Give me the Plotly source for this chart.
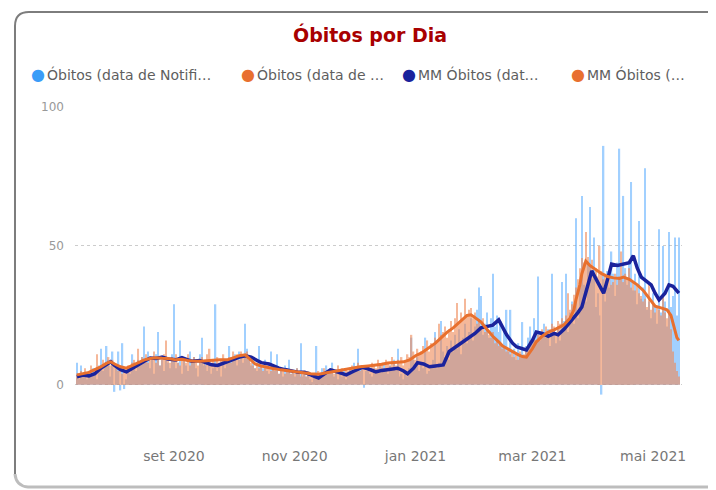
import pandas as pd
import plotly.graph_objects as go

# ---------------- data ----------------
start_date = "2020-07-14"
end_date = "2021-05-14"

# Óbitos (data de Notificação) - daily, by month
notif_jul = [8, 2, 7, 3, 4, 2, 5, 3, 6, 4, 2, 7, 13, 5, 8, 14, 9, 3]
notif_aug = [12, -2.5, 6, 12, -2, 15, -1.5, 2, 6, 4, 11, 8, 5, 9, 7, 10, 21, 8, 12, 6,
             9, 4, 11, 19, 7, 10, 5, 9, 8, 6, 11]
notif_sep = [29, 6, 8, 16, 4, 9, 7, 5, 12, 8, 10, 6, 3, 11, 17, 7, 9, 5, 8, 4,
             6, 29, 5, 7, 3, 9, 6, 8, 14, 10]
notif_oct = [9, 11, 7, 12, 10, 8, 22, 13, 9, 7, 10, 6, 5, 14, 7, 6, 9, 5, 4, 12,
             6, 5, 11, 4, 6, 3, 7, 5, 9, 4, 5]
notif_nov = [3, 6, 4, 15, 3, 4, 3, 5, 2, 1, 3, 14, 2, 4, 6, 5, 7, 4, 6, 8,
             3, 5, 2, 4, 3, 5, 2, 4, 6, 4]
notif_dec = [8, 5, 13, 7, 6, -1, 5, 7, 4, 3, 6, 4, 5, 7, 6, 8, 5, 4, 7, 6,
             9, 5, 13, 3, 4, 2, 5, 3, 6, 17, 9]
notif_jan = [7, 10, 5, 8, 6, 17, 4, 5, 7, 9, 19, 6, 8, 23, 12, 10, 14, 9, 16, 12,
             18, 13, 20, 11, 17, 22, 15, 19, 24, 16, 21]
notif_feb = [27, 35, 32, 18, 22, 26, 17, 24, 40, 21, 25, 19, 23, 14, 20, 27, 12, 27, 10, 13,
             9, 15, 11, 22.6, 10, 14, 17, 21]
notif_mar = [15, 24, 19, 39, 16, 18, 22, 17, 20, 14, 40, 18, 15, 21, 16, 37, 23, 40, 19, 26,
             30, 22, 60, 24, 35, 68, 36, 30, 44, 64, 38]
notif_apr = [53, 28, 33, 25, -3.5, 86, 30, 41, 35, 48, 40, 32, 44, 85, 38, 68, 42, 36, 45, 73,
             34, 40, 29, 59, 31, 35, 78, 27, 30, 24]
notif_may = [33, 28, 22, 56, 26, 50, 30, 21, 55, 28, 32, 53, 25, 53]

# Óbitos (data de Óbito) - daily, by month
obito_jul = [4, 3, 5, 4, 6, 3, 5, 7, 4, 6, 11, 5, 7, 9, 6, 8, 10, 7]
obito_aug = [9, 8, 6, 5, 7, 4, 6, 5, 7, 6, 8, 9, 7, 13, 8, 10, 9, 11, 8, 10,
             9, 12, 8, 10, 7, 9, 11, 16, 9, 8, 10]
obito_sep = [9, 11, 8, 7, 10, 9, 8, 11, 7, 9, 10, 8, 7, 9, 10, 8, 7, 11, 13, 8,
             9, 7, 10, 8, 9, 11, 8, 9, 10, 8]
obito_oct = [12, 10, 11, 9, 12, 11, 10, 12, 9, 8, 7, 6, 8, 6, 7, 5, 6, 7, 6, 5,
             7, 6, 5, 4, 6, 5, 4, 6, 5, 4, 5]
obito_nov = [4, 6, 5, 3, 4, 5, 3, 5, 3, 4, 3, 4, 5, 3, 4, 6, 5, 4, 5, 6,
             4, 5, 7, 5, 6, 4, 6, 5, 6, 7]
obito_dec = [5, 6, 8, 5, 7, 6, 6, 7, 5, 8, 7, 6, 9, 7, 8, 6, 9, 8, 7, 10,
             8, 7, 9, 8, 10, 7, 9, 11, 10, 18, 12]
obito_jan = [9, 13, 11, 12, 14, 13, 16, 12, 15, 14, 17, 16, 22, 18, 19, 21, 17, 20, 23, 19,
             24, 29.5, 22, 26, 24, 31, 25, 27, 27.7, 24, 26]
obito_feb = [22, 23, 21, 24, 19, 20, 18, 17, 19, 15, 16, 14, 15, 13, 14, 12, 13, 11, 12, 10,
             11, 9, 12, 10, 11, 13, 14, 16]
obito_mar = [15, 17, 16, 18, 19, 20, 18, 21, 19, 20, 22, 21, 19, 23, 22, 24, 21, 25, 33, 27,
             29, 32.4, 35, 38, 42, 45.7, 44, 55, 46, 43, 45]
obito_apr = [40, 42, 39, 50, 41, 38, 40, 37, 39, 36, 37, 40, 36, 39, 48, 37, 40, 38, 42, 35,
             37, 34, 36, 33, 32, 30, 31, 28, 36, 27]
obito_may = [29, 26, 28, 27, 25, 32, 26, 24, 27, 20, 12, 8, 5, 3]

# MM Óbitos (data de Notificação): day offset from start_date, value
mm_notif_day = [0, 3, 6, 9, 12, 15, 17, 19, 22, 25, 28, 31, 34, 37, 40, 43, 46, 50, 53, 56,
                58, 62, 65, 68, 71, 74, 78, 82, 85, 88, 91, 93, 97, 99, 102, 105, 108, 112, 115, 118,
                122, 125, 128, 131, 134, 136, 140, 144, 147, 151, 154, 158, 162, 165, 167, 170, 172, 175, 178, 181,
                185, 188, 191, 195, 198, 201, 204, 207, 210, 213, 214, 217, 220, 222, 225, 227, 230, 232, 235, 238,
                241, 243, 246, 249, 251, 253, 255, 257, 260, 263, 266, 268, 270, 273, 276, 279, 281, 283, 285, 288,
                290, 292, 294, 297, 299, 301, 304]
mm_notif_val = [2.9, 3.5, 3.2, 4, 6, 7.5, 8.3, 7, 5.5, 4.7, 6, 7.5, 8.5, 9.7, 9.5, 10, 9.3, 9, 9.8, 9,
                8.5, 8.8, 8, 7.2, 7, 7.8, 9, 10, 10.5, 10, 8.8, 8, 7.5, 6.8, 6, 5.5, 5, 4.5, 4.5, 3.5,
                2.5, 4, 5.4, 4.8, 4.2, 3.6, 5, 6.3, 5.8, 4.7, 5.2, 5.5, 6, 5, 4, 6, 8, 7.5, 6.5, 6.8,
                7.2, 12, 13.5, 15.5, 17, 18.5, 20.5, 21, 21.5, 23.4, 22, 18, 15, 13.7, 13, 12.6, 16, 19, 18.5, 17.5,
                18.5, 18, 20, 22.5, 24, 26, 28, 33, 41, 37, 33, 38, 43.5, 43, 43.5, 44, 46.5, 42, 38.8, 37,
                36, 33, 30.6, 33, 36, 35.5, 33]

# MM Óbitos (data de Óbito): day offset from start_date, value
mm_obito_day = [0, 3, 6, 9, 12, 15, 17, 19, 22, 25, 28, 31, 34, 37, 40, 43, 46, 50, 53, 56,
                58, 62, 65, 68, 72, 76, 79, 82, 85, 88, 90, 93, 97, 99, 103, 107, 110, 114, 118, 122,
                125, 128, 132, 136, 139, 143, 147, 151, 154, 157, 161, 165, 168, 171, 174, 176, 178, 181, 184, 187,
                190, 193, 195, 197, 199, 201, 204, 207, 210, 213, 215, 218, 220, 223, 225, 227, 230, 232, 235, 238,
                241, 244, 246, 249, 251, 252, 254, 255, 257, 259, 262, 265, 268, 271, 274, 276, 279, 283, 286, 288,
                291, 292, 295, 298, 300, 302, 303, 304]
mm_obito_val = [3.6, 4, 4.5, 5.5, 6.5, 7.8, 8.3, 7.5, 6.5, 6, 7, 8, 9, 9.5, 9.8, 9.6, 9.5, 9, 9.2, 8.8,
                8.6, 8.5, 8.7, 9, 9, 9, 9.8, 10.5, 10.8, 9, 7.5, 6.8, 6.1, 5.9, 5.4, 5, 4.7, 4.3, 4, 3.8,
                4.2, 4.5, 5, 5.5, 6, 6.5, 6.8, 7.1, 7.4, 7.9, 8, 8.3, 9, 10.5, 11.5, 12.5, 13.3, 15, 17, 19,
                20.5, 22.5, 24, 25, 25.2, 24.3, 22.7, 20, 17.5, 15.5, 14, 12.8, 11.9, 10.8, 10.2, 10, 13, 15.5, 17.5, 19,
                19.8, 20.8, 21.6, 24, 27, 30.6, 36, 40, 44.5, 43, 41.5, 40, 39, 38.5, 38.3, 38.8, 38, 36, 34, 32,
                29, 28.3, 27.7, 27, 25, 20, 17, 16]

tick_dates = ["2020-09-01", "2020-11-01", "2021-01-01", "2021-03-01", "2021-05-01"]
tick_labels = ["set 2020", "nov 2020", "jan 2021", "mar 2021", "mai 2021"]
y_ticks = [0, 50, 100]

legend_names = ["Óbitos (data de Notifi…", "Óbitos (data de …", "MM Óbitos (dat…", "MM Óbitos (…"]
title_text = "Óbitos por Dia"

# ---------------- build ----------------
dates = pd.date_range(start_date, end_date, freq="D")
notif = (notif_jul + notif_aug + notif_sep + notif_oct + notif_nov + notif_dec +
         notif_jan + notif_feb + notif_mar + notif_apr + notif_may)
obito = (obito_jul + obito_aug + obito_sep + obito_oct + obito_nov + obito_dec +
         obito_jan + obito_feb + obito_mar + obito_apr + obito_may)
assert len(notif) == len(dates) == len(obito), (len(notif), len(obito), len(dates))

t0 = pd.Timestamp(start_date)
mm_notif_dates = [t0 + pd.Timedelta(days=d) for d in mm_notif_day]
mm_obito_dates = [t0 + pd.Timedelta(days=d) for d in mm_obito_day]

C_BLUE_BAR = "#46a2ff"
C_ORANGE_BAR = "#f08a58"
C_NAVY = "#1a239c"
C_ORANGE = "#e8702e"
C_LEG_BLUE = "#3a9cf8"
FONT = "DejaVu Sans, Open Sans, sans-serif"

# page offset (browser body margin)
OFF = 8
W, H = 716 - OFF, 490 - OFF
# plot area in page pixels: x 75..682, y 107..446
ML, MR, MT, MB = 75 - OFF, W - (682 - OFF), 107 - OFF, H - (446 - OFF)
PW, PH = W - ML - MR, H - MT - MB


def px(x):
    # page pixel -> paper fraction
    return (x - OFF - ML) / PW


def py(y):
    return (H - MB - (y - OFF)) / PH


fig = go.Figure()
fig.add_trace(go.Bar(x=dates, y=notif, name=legend_names[0], marker_color=C_BLUE_BAR,
                     marker_line_width=0, opacity=0.5))
fig.add_trace(go.Bar(x=dates, y=obito, name=legend_names[1], marker_color=C_ORANGE_BAR,
                     marker_line_width=0, opacity=0.6))
fig.add_trace(go.Scatter(x=mm_notif_dates, y=mm_notif_val, name=legend_names[2], mode="lines",
                         line=dict(color=C_NAVY, width=3.5)))
fig.add_trace(go.Scatter(x=mm_obito_dates, y=mm_obito_val, name=legend_names[3], mode="lines",
                         line=dict(color=C_ORANGE, width=3)))

annotations = [dict(text="<b>%s</b>" % title_text, x=px(370), y=py(35), xref="paper", yref="paper",
                    showarrow=False, xanchor="center", yanchor="middle",
                    font=dict(family=FONT, size=19, color="#a80000"))]
leg_dot_x = [38, 248, 409, 578]
leg_colors = [C_LEG_BLUE, C_ORANGE, C_NAVY, C_ORANGE]
for name, dx, col in zip(legend_names, leg_dot_x, leg_colors):
    annotations.append(dict(text="●", x=px(dx), y=py(74), xref="paper", yref="paper", showarrow=False,
                            xanchor="center", yanchor="middle", font=dict(family=FONT, size=16, color=col)))
    annotations.append(dict(text=name, x=px(dx + 7), y=py(74), xref="paper", yref="paper", showarrow=False,
                            xanchor="left", yanchor="middle", font=dict(family=FONT, size=14, color="#5e5e5e")))

shapes = [
    dict(type="path", xref="paper", yref="paper",
         path="M %f,%f L %f,%f Q %f,%f %f,%f L %f,%f" % (
             px(15), py(474), px(15), py(26), px(15), py(12), px(29), py(12), px(716), py(12)),
         line=dict(color="#7d7d7d", width=2)),
    dict(type="path", xref="paper", yref="paper",
         path="M %f,%f Q %f,%f %f,%f L %f,%f" % (
             px(15), py(474), px(16), py(486), px(28), py(487), px(716), py(487)),
         line=dict(color="#bdbdbd", width=3)),
]

fig.update_layout(
    width=W, height=H,
    margin=dict(l=ML, r=MR, t=MT, b=MB),
    paper_bgcolor="white", plot_bgcolor="white",
    barmode="overlay", bargap=0.3,
    showlegend=False,
    annotations=annotations,
    shapes=shapes,
    font=dict(family=FONT),
    xaxis=dict(range=["2020-07-13 00:00", "2021-05-15 14:00"], tickvals=tick_dates, ticktext=tick_labels,
               showgrid=False, zeroline=False, showline=False, ticks="",
               tickfont=dict(family=FONT, size=14, color="#777777")),
    yaxis=dict(range=[-22, 100], tickvals=y_ticks, showgrid=True, gridcolor="#cccccc", griddash="dot",
               gridwidth=1, zeroline=False, showline=False, ticks="", ticklabelstandoff=10,
               tickfont=dict(family=FONT, size=12, color="#999999")),
)

fig.write_html("out.html")
